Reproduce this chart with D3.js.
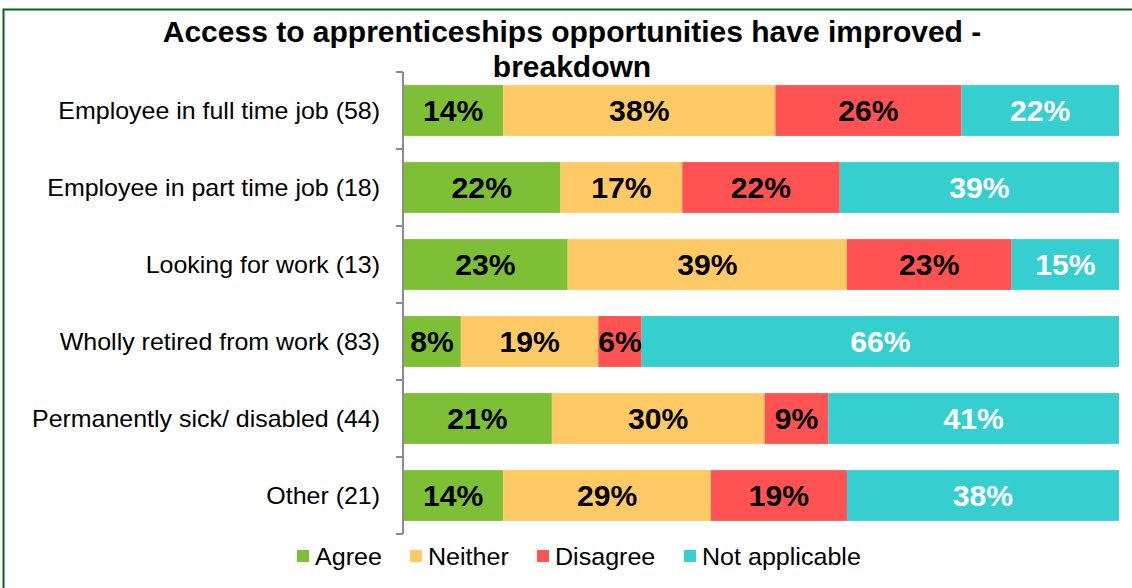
<!DOCTYPE html>
<html>
<head>
<meta charset="utf-8">
<script src="https://cdn.jsdelivr.net/npm/d3@7"></script>
<style>
  html, body { margin: 0; padding: 0; background: #fff; }
  svg { display: block; font-family: "Liberation Sans", Arial, sans-serif; }
</style>
</head>
<body>
<svg id="chart" width="1132" height="588"></svg>
<script>
// Survey breakdown: share of respondents per employment status
const categories = [
  "Employee in full time job (58)",
  "Employee in part time job (18)",
  "Looking for work (13)",
  "Wholly retired from work (83)",
  "Permanently sick/ disabled (44)",
  "Other (21)"
];
const seriesNames = ["Agree", "Neither", "Disagree", "Not applicable"];
const agree         = [14, 22, 23, 8, 21, 14];
const neither       = [38, 17, 39, 19, 30, 29];
const disagree      = [26, 22, 23, 6, 9, 19];
const notApplicable = [22, 39, 15, 66, 41, 38];
const colors = ["#7DC035", "#FFCA66", "#FF5353", "#36CFCF"];
const labelColors = ["#000", "#000", "#000", "#fff"];

const rows = categories.map((c, i) => ({
  category: c,
  "Agree": agree[i],
  "Neither": neither[i],
  "Disagree": disagree[i],
  "Not applicable": notApplicable[i]
}));

const svg = d3.select("#chart");
const W = 1132, H = 588;

// places a text at (x, y) with a horizontal stretch
const placed = (x, y, sx) => `translate(${x},${y}) scale(${sx},1)`;

// outer frame
svg.append("rect")
  .attr("x", 3.5).attr("y", 9.5)
  .attr("width", W + 10).attr("height", H + 10)
  .attr("fill", "none").attr("stroke", "#0B6212").attr("stroke-width", 2);

// title
const titleLines = ["Access to apprenticeships opportunities have improved -", "breakdown"];
svg.append("g").selectAll("text").data(titleLines).join("text")
  .attr("transform", (d, i) => placed(572, 42 + i * 35, 1))
  .attr("text-anchor", "middle")
  .attr("font-weight", "bold").attr("font-size", 30).attr("fill", "#000")
  .text(d => d);

const x0 = 403, x1 = 1119, yTop = 72, yBot = 534;

const stack = d3.stack().keys(seriesNames).offset(d3.stackOffsetExpand);
const stacked = stack(rows);

const x = d3.scaleLinear().domain([0, 1]).range([x0, x1]);
const y = d3.scaleBand().domain(categories).range([yTop, yBot]).paddingInner(0.34).paddingOuter(0.17);

const layers = svg.append("g").selectAll("g")
  .data(stacked).join("g")
  .attr("fill", (d, i) => colors[i]);

layers.selectAll("rect")
  .data(d => d.map(v => ({ v, key: d.key, index: d.index })))
  .join("rect")
  .attr("x", d => x(d.v[0]))
  .attr("y", d => y(d.v.data.category))
  .attr("width", d => x(d.v[1]) - x(d.v[0]))
  .attr("height", y.bandwidth());

// value labels
layers.selectAll("text")
  .data(d => d.map(v => ({ v, key: d.key, index: d.index })))
  .join("text")
  .attr("transform", d => placed((x(d.v[0]) + x(d.v[1])) / 2, y(d.v.data.category) + y.bandwidth() / 2, 1.04))
  .attr("dy", "0.36em")
  .attr("text-anchor", "middle")
  .attr("font-weight", "bold").attr("font-size", 29)
  .attr("fill", d => labelColors[d.index])
  .text(d => d.v.data[d.key] + "%");

// category axis with ticks on band boundaries
const axisG = svg.append("g").attr("stroke", "#8C8C8C").attr("stroke-width", 2);
axisG.append("line").attr("x1", x0).attr("x2", x0).attr("y1", yTop).attr("y2", yBot);
const bounds = d3.range(categories.length + 1).map(i => yTop + i * (yBot - yTop) / categories.length);
axisG.selectAll("line.tick").data(bounds).join("line").attr("class", "tick")
  .attr("x1", x0 - 7).attr("x2", x0).attr("y1", d => d).attr("y2", d => d);

svg.append("g").selectAll("text").data(categories).join("text")
  .attr("transform", d => placed(380, y(d) + y.bandwidth() / 2, 1.04))
  .attr("dy", "0.36em")
  .attr("text-anchor", "end")
  .attr("font-size", 24).attr("fill", "#000")
  .text(d => d);

// legend
const legendX = [297, 410, 537, 684];
const legend = svg.append("g").selectAll("g").data(seriesNames).join("g")
  .attr("transform", (d, i) => `translate(${legendX[i]},556)`);
legend.append("rect").attr("x", 0).attr("y", -6).attr("width", 12).attr("height", 12)
  .attr("fill", (d, i) => colors[i]);
legend.append("text").attr("transform", placed(18, 0, 1.045)).attr("dy", "0.36em")
  .attr("font-size", 24).attr("fill", "#000").text(d => d);
</script>
</body>
</html>
